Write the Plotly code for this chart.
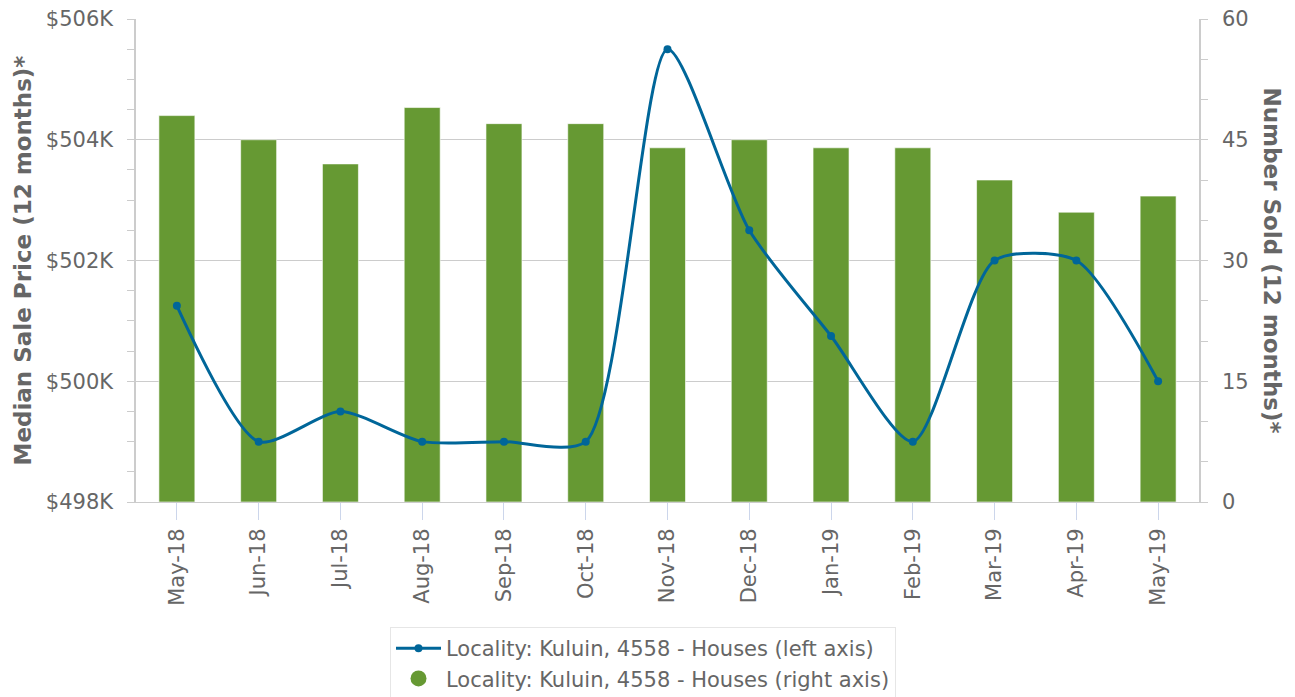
import plotly.graph_objects as go

months = ["May-18", "Jun-18", "Jul-18", "Aug-18", "Sep-18", "Oct-18", "Nov-18",
          "Dec-18", "Jan-19", "Feb-19", "Mar-19", "Apr-19", "May-19"]
median_price = [501250, 499000, 499500, 499000, 499000, 499000, 505500,
                502500, 500750, 499000, 502000, 502000, 500000]
number_sold = [48, 45, 42, 49, 47, 47, 44, 45, 44, 44, 40, 36, 38]

price_ticks = [498000, 500000, 502000, 504000, 506000]
price_labels = ["$498K", "$500K", "$502K", "$504K", "$506K"]
sold_ticks = [0, 15, 30, 45, 60]

label_left = "Locality: Kuluin, 4558 - Houses (left axis)"
label_right = "Locality: Kuluin, 4558 - Houses (right axis)"

FONT = "DejaVu Sans"
GREY = "#666666"
LINE_C = "#006699"
BAR_C = "#669933"
AX_C = "#cccccc"

# the page body has an 8px margin; compensate so the plot lands where the reference's does
OFF = 8
W, H = 1295 - OFF, 697 - OFF
L, R, T, B = 136 - OFF, 96, 19 - OFF, 195
PW = W - L - R
PH = H - T - B

fig = go.Figure()
fig.add_trace(go.Bar(
    x=months, y=number_sold, yaxis="y", name=label_right,
    marker=dict(color=BAR_C, line=dict(color="rgba(255,255,255,0.6)", width=1)),
    width=0.44, showlegend=False,
))
fig.add_trace(go.Scatter(
    x=months, y=median_price, yaxis="y2", name=label_left,
    mode="lines+markers", line=dict(color=LINE_C, width=3, shape="spline", smoothing=0.7),
    marker=dict(color=LINE_C, size=8),
))
fig.add_trace(go.Scatter(
    x=[None], y=[None], yaxis="y", name=label_right, mode="markers",
    marker=dict(color=BAR_C, size=21, symbol="circle"),
))

fig.update_layout(
    width=W, height=H,
    margin=dict(l=L, r=R, t=T, b=B, autoexpand=False),
    paper_bgcolor="white", plot_bgcolor="white",
    font=dict(family=FONT, color=GREY, size=21),
    barmode="overlay",
    xaxis=dict(
        type="category", range=[-0.5, 12.5], automargin=False,
        tickangle=-90, tickfont=dict(size=21, color=GREY),
        ticks="outside", ticklen=17, tickcolor="#ccd6eb", tickwidth=1,
        showline=True, linecolor=AX_C, linewidth=1,
        showgrid=False, zeroline=False, ticklabeloverflow="allow",
    ),
    yaxis=dict(
        range=[0, 60], tickvals=sold_ticks, side="right", automargin=False,
        tickfont=dict(size=21, color=GREY), ticklabelstandoff=10,
        ticklabeloverflow="allow",
        ticks="outside", ticklen=7, tickcolor=AX_C,
        showline=True, linecolor=AX_C, linewidth=1.5,
        showgrid=True, gridcolor=AX_C, gridwidth=1, zeroline=False,
        minor=dict(ticks="outside", ticklen=7, tickcolor=AX_C, nticks=5, showgrid=False),
    ),
    yaxis2=dict(
        range=[498000, 506000], tickvals=price_ticks, ticktext=price_labels,
        overlaying="y", side="left", automargin=False,
        tickfont=dict(size=21, color=GREY), ticklabelstandoff=10,
        ticklabeloverflow="allow",
        ticks="outside", ticklen=7, tickcolor=AX_C,
        showline=True, linecolor=AX_C, linewidth=1.5,
        showgrid=False, zeroline=False,
        minor=dict(ticks="outside", ticklen=7, tickcolor=AX_C, nticks=5, showgrid=False),
    ),
    legend=dict(
        x=(390 - OFF - L) / PW, xanchor="left", y=-(627 - 502) / PH, yanchor="top",
        bordercolor="#e6e6e6", borderwidth=1, bgcolor="white",
        font=dict(size=21, color=GREY), traceorder="normal",
        itemsizing="trace", itemwidth=45, tracegroupgap=0,
    ),
    annotations=[
        dict(
            text="<b>Median Sale Price (12 months)*</b>", textangle=-90,
            xref="paper", yref="paper", x=(22 - 136) / PW, y=0.5,
            xanchor="center", yanchor="middle", showarrow=False,
            font=dict(size=23, color=GREY, family=FONT),
        ),
        dict(
            text="<b>Number Sold (12 months)*</b>", textangle=90,
            xref="paper", yref="paper", x=1.0 + (1272 - 1199) / PW, y=0.5,
            xanchor="center", yanchor="middle", showarrow=False,
            font=dict(size=23, color=GREY, family=FONT),
        ),
    ],
)

fig.write_html("out.html")
